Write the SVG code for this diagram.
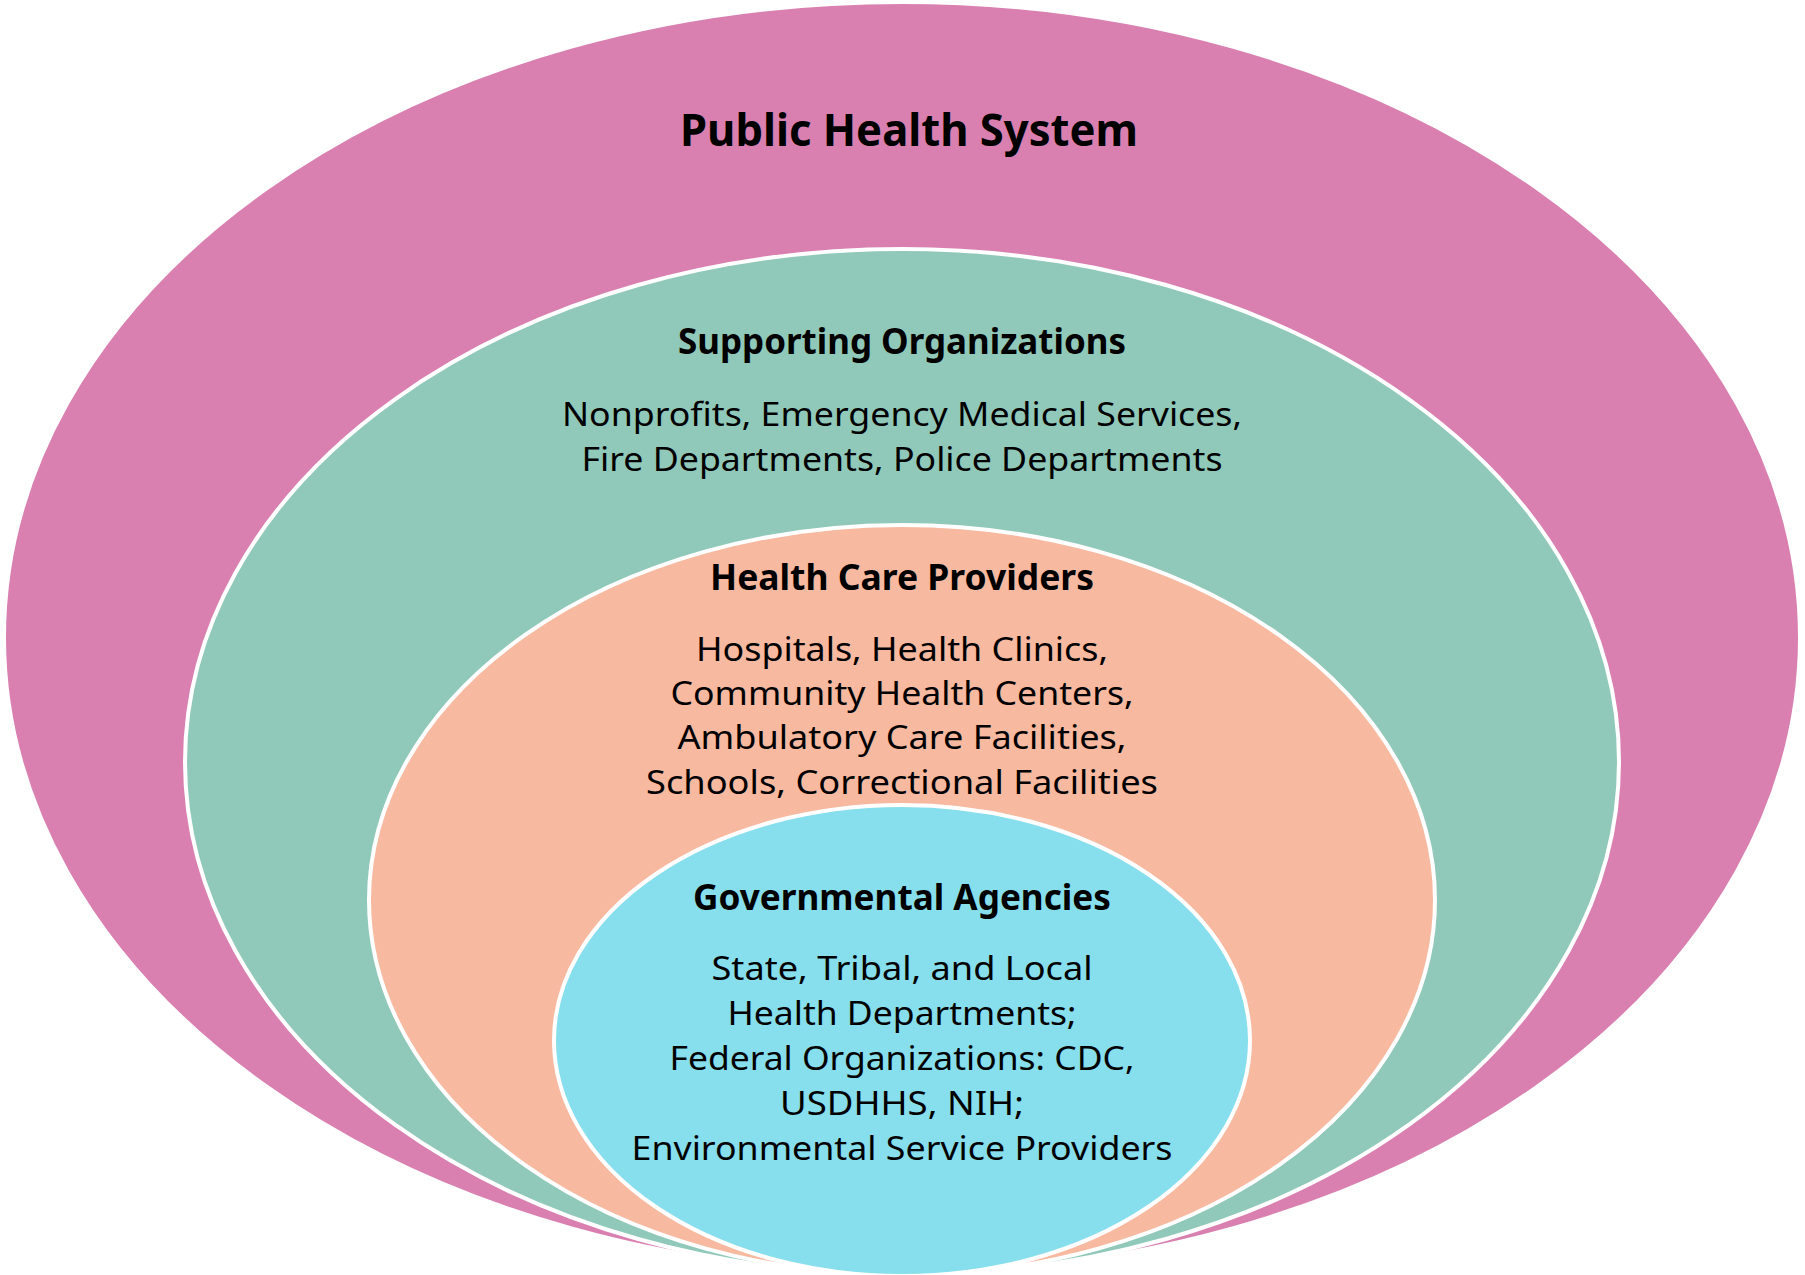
<svg xmlns="http://www.w3.org/2000/svg" width="1805" height="1275" viewBox="0 0 1805 1275">
  <style>
    .ring { stroke: #ffffff; stroke-width: 4; }
    .title { font-family: "Noto Sans", "Open Sans", "Liberation Sans", sans-serif; font-weight: 700; fill: #000000; text-anchor: middle; }
    .body { font-family: "Noto Sans", "Open Sans", "Liberation Sans", sans-serif; font-weight: 400; fill: #000000; text-anchor: middle; }
  </style>
  <rect x="0" y="0" width="1805" height="1275" fill="#ffffff"/>
  <g id="public-health-system">
    <ellipse class="ring" cx="902" cy="637.5" rx="898" ry="635.5" fill="#D980B1"/>
    <text class="title" x="909" y="146" font-size="44" textLength="458" lengthAdjust="spacingAndGlyphs">Public Health System</text>
  </g>
  <g id="supporting-organizations">
    <ellipse class="ring" cx="902" cy="762" rx="717" ry="513" fill="#90C9B9"/>
    <text class="title" x="902" y="354" font-size="35" textLength="448" lengthAdjust="spacingAndGlyphs">Supporting Organizations</text>
    <text class="body" x="902" y="426" font-size="32" textLength="680" lengthAdjust="spacingAndGlyphs">Nonprofits, Emergency Medical Services,</text>
    <text class="body" x="902" y="471" font-size="32" textLength="641" lengthAdjust="spacingAndGlyphs">Fire Departments, Police Departments</text>
  </g>
  <g id="health-care-providers">
    <ellipse class="ring" cx="902" cy="900" rx="533" ry="375" fill="#F7B99F"/>
    <text class="title" x="902" y="590" font-size="35" textLength="384" lengthAdjust="spacingAndGlyphs">Health Care Providers</text>
    <text class="body" x="902" y="661" font-size="32" textLength="412" lengthAdjust="spacingAndGlyphs">Hospitals, Health Clinics,</text>
    <text class="body" x="902" y="705" font-size="32" textLength="463" lengthAdjust="spacingAndGlyphs">Community Health Centers,</text>
    <text class="body" x="902" y="749" font-size="32" textLength="449" lengthAdjust="spacingAndGlyphs">Ambulatory Care Facilities,</text>
    <text class="body" x="902" y="794" font-size="32" textLength="512" lengthAdjust="spacingAndGlyphs">Schools, Correctional Facilities</text>
  </g>
  <g id="governmental-agencies">
    <ellipse class="ring" cx="902" cy="1040.5" rx="348" ry="235.5" fill="#87DEEC"/>
    <text class="title" x="902" y="910" font-size="35" textLength="418" lengthAdjust="spacingAndGlyphs">Governmental Agencies</text>
    <text class="body" x="902" y="980" font-size="32" textLength="381" lengthAdjust="spacingAndGlyphs">State, Tribal, and Local</text>
    <text class="body" x="902" y="1025" font-size="32" textLength="349" lengthAdjust="spacingAndGlyphs">Health Departments;</text>
    <text class="body" x="902" y="1070" font-size="32" textLength="465" lengthAdjust="spacingAndGlyphs">Federal Organizations: CDC,</text>
    <text class="body" x="902" y="1115" font-size="32" textLength="244" lengthAdjust="spacingAndGlyphs">USDHHS, NIH;</text>
    <text class="body" x="902" y="1160" font-size="32" textLength="541" lengthAdjust="spacingAndGlyphs">Environmental Service Providers</text>
  </g>
</svg>
